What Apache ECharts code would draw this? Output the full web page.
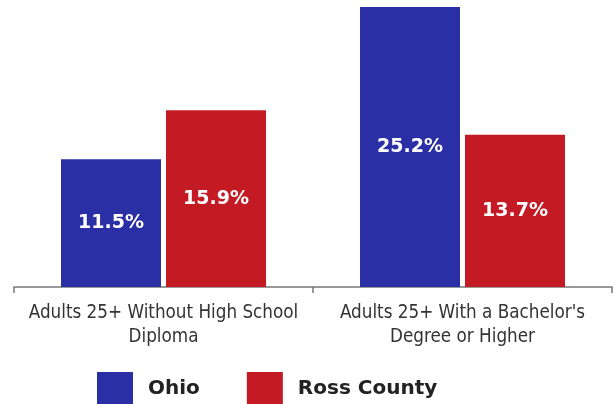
<!DOCTYPE html>
<html>
<head>
<meta charset="utf-8">
<script src="https://cdn.jsdelivr.net/npm/echarts@6/dist/echarts.min.js"></script>
<style>html,body{margin:0;padding:0;background:#fff;}#c{width:614px;height:404px;}</style>
</head>
<body>
<div id="c"></div>
<script>
const categories = ["Adults 25+ Without High School\nDiploma", "Adults 25+ With a Bachelor's\nDegree or Higher"];
const ohioValues = [11.5, 25.2];
const rossValues = [15.9, 13.7];
const seriesNames = ["Ohio", "Ross County"];

const chart = echarts.init(document.getElementById('c'), null, {renderer: 'canvas'});
const labelStyle = {
  show: true, position: 'inside', color: '#fff', fontSize: 19, fontWeight: 'bold',
  fontFamily: 'DejaVu Sans', formatter: p => p.value.toFixed(1) + '%'
};
chart.setOption({
  animation: false,
  backgroundColor: '#fff',
  grid: {left: 14, right: 2, top: 7, bottom: 117, containLabel: false},
  legend: {
    data: seriesNames, left: 97, top: 372, itemWidth: 36, itemHeight: 34, itemGap: 47,
    icon: 'rect', padding: 0,
    textStyle: {fontSize: 20, fontWeight: 'bold', color: '#222', fontFamily: 'DejaVu Sans', padding: [8, 0, 0, 10]}
  },
  xAxis: {
    type: 'category', data: categories,
    axisLine: {lineStyle: {color: '#777', width: 1.5}},
    axisTick: {show: true, length: 6, lineStyle: {color: '#777', width: 1.5}},
    axisLabel: {color: '#333', fontSize: 18.7, fontFamily: 'DejaVu Sans Condensed', lineHeight: 24, margin: 14, interval: 0}
  },
  yAxis: {type: 'value', min: 0, max: 25.2, show: false, splitLine: {show: false}},
  series: [
    {name: seriesNames[0], type: 'bar', data: ohioValues, barWidth: 100, barGap: '5%',
     itemStyle: {color: '#2a2fa6'}, label: labelStyle},
    {name: seriesNames[1], type: 'bar', data: rossValues, barWidth: 100,
     itemStyle: {color: '#c41a24'}, label: labelStyle}
  ]
});
</script>
</body>
</html>
